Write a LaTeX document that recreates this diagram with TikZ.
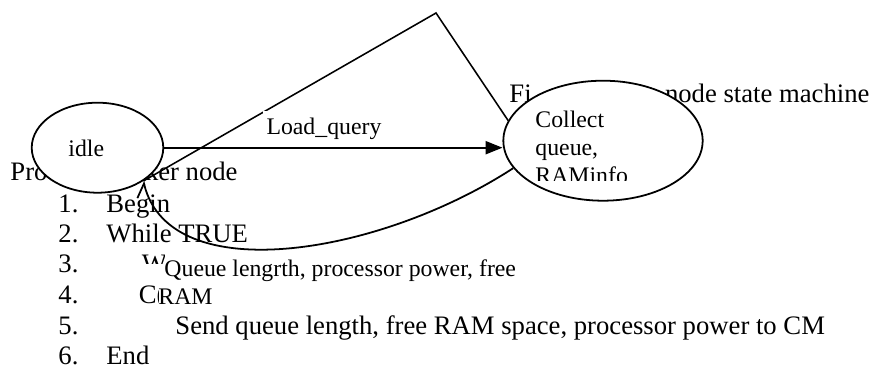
\documentclass[tikz,border=0pt]{standalone}
\usepackage{fontspec}
\setmainfont{Liberation Serif}
\usetikzlibrary{positioning,arrows.meta,shapes.geometric}

\begin{document}
\begin{tikzpicture}[x=0.45pt, y=-0.45pt,
        testo/.style={anchor=base west, inner sep=0pt, font=\fontsize{12pt}{13.8pt}\selectfont},
        etich/.style={anchor=base west, inner sep=0pt, align=left, font=\fontsize{10.7pt}{12.4pt}\selectfont},
        stato/.style={draw, ellipse, fill=white, line width=0.8pt},
        freccia/.style={line width=0.8pt}]
        \useasboundingbox (0,0) rectangle (870,367);

        % TESTO
        \node[testo] (fig) at (509,103) {Fi\hspace{60pt}node state machine};
        \node[testo] (proc) at (10,181) {Pro\hspace{43.9pt}ker node};
        \node[testo] (n1) at (58,212) {1.};
        \node[testo] (n2) at (58,242.5) {2.};
        \node[testo] (n3) at (58,272.5) {3.};
        \node[testo] (n4) at (58,303) {4.};
        \node[testo] (n5) at (58,334) {5.};
        \node[testo] (n6) at (58,364.5) {6.};
        \node[testo] (r1) at (106,212) {Begin};
        \node[testo] (r2) at (106,242.5) {While TRUE};
        \begin{scope}
            \clip (130,240) rectangle (164,263);
            \node[testo] (r3) at (141.5,272.5) {W};
        \end{scope}
        \begin{scope}
            \clip (130,280) rectangle (158,310);
            \node[testo] (r4) at (138.5,303) {C(};
        \end{scope}
        \node[testo] (r5) at (175,334) {Send queue length, free RAM space, processor power to CM};
        \node[testo] (r6) at (106,364.5) {End};

        % STATI
        \node[stato, minimum width=59.2pt, minimum height=40.5pt] (idle) at (97.5,147.7) {};
        \node[stato, minimum width=89.7pt, minimum height=54pt] (coll) at (603,140.7) {};
        \node[etich] (tidle) at (68,156.7) {idle};
        \begin{scope}
            \clip (520,90) rectangle (700,180);
            \node[etich] (tcoll) at (535,183) {Collect\\queue,\\RAMinfo};
        \end{scope}

        % TRANSIZIONI
        \coordinate (apice) at (436,13);
        \draw[line width=0.7pt] (idle.-36) -- (apice) -- (coll.168);
        \draw[freccia, -{Triangle[length=7.6pt, width=5.9pt]}] (idle.east) -- (idle.east -| coll.west);
        \node[etich, fill=white, inner xsep=1.6pt, text height=11pt, text depth=0pt] (lq) at (262.5,135) {Load\_query};
        \draw[freccia, -{Straight Barb[left, angle=76:7.2pt]}] (coll.197) .. controls (380,255) and (170,290) .. (idle.-36);
        \node[etich] (ql) at (158,304) {\hspace*{2.7pt}Queue lengrth, processor power, free\\RAM};
    \end{tikzpicture}
\end{document}
